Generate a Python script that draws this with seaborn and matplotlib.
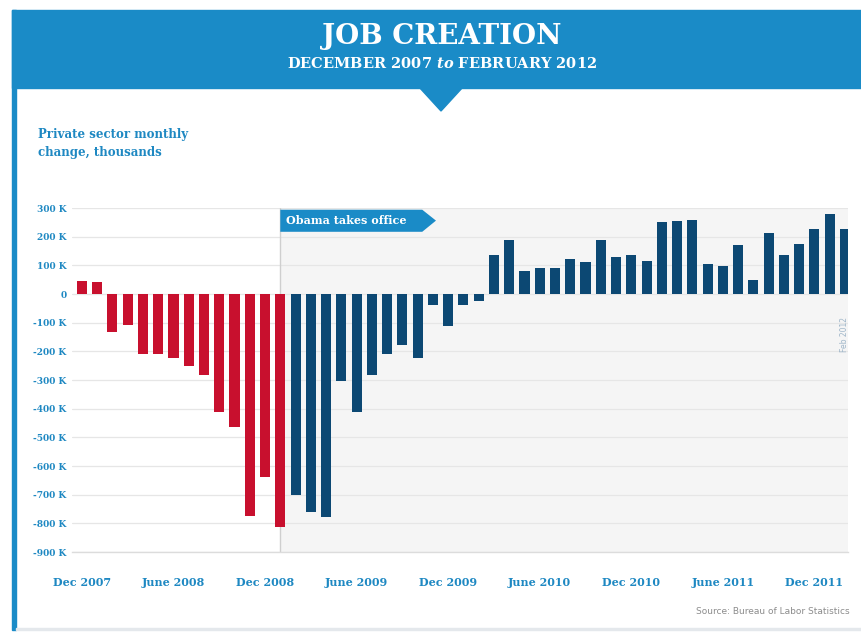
import pandas as pd
import matplotlib
matplotlib.use("Agg")
import matplotlib.pyplot as plt
import seaborn as sns
from matplotlib.patches import Rectangle, Polygon

# -------------------------------
# Data (private sector monthly change, thousands)
# -------------------------------
months = pd.date_range("2007-12-01", "2012-02-01", freq="MS")
change = [47, 41, -131, -107, -208, -208, -224, -250, -284, -413, -465, -774, -638,
          -812, -702, -762, -777, -303, -413, -284, -210, -177, -224, -40, -113,
          -37, -26, 137, 187, 81, 91, 91, 123, 112, 190, 129, 137,
          116, 250, 254, 257, 105, 99, 172, 50, 213, 136, 175, 228, 279, 228]
period = ["before"] * 14 + ["after"] * 37

tick_pos = [0, 6, 12, 18, 24, 30, 36, 42, 48]
tick_labels = ["Dec 2007", "June 2008", "Dec 2008", "June 2009", "Dec 2009",
               "June 2010", "Dec 2010", "June 2011", "Dec 2011"]
y_ticks = [300, 200, 100, 0, -100, -200, -300, -400, -500, -600, -700, -800, -900]
y_labels = ["0" if v == 0 else f"{v} K" for v in y_ticks]

df = pd.DataFrame({"month": months.strftime("%b %Y"), "change": change, "period": period})

# -------------------------------
# Style
# -------------------------------
sns.set_style("white")
plt.rcParams["font.family"] = ["DejaVu Serif"]
plt.rcParams["mathtext.fontset"] = "custom"
plt.rcParams["mathtext.it"] = "DejaVu Serif:italic:bold"

HEAD = "#1a8bc7"
RED = "#c8102e"
NAVY = "#0c4873"
TXT = "#1e88c2"

W, H = 862, 634


def px(x, y):
    return (x / W, 1 - y / H)


fig = plt.figure(figsize=(W / 100, H / 100), dpi=100)
fig.patch.set_facecolor("white")

# card frame and header band
fig.patches.append(Rectangle(px(12, 630), 4 / W, 620 / H, transform=fig.transFigure,
                             color=HEAD, zorder=0))
fig.patches.append(Rectangle(px(16, 630), (W - 16) / W, 2 / H, transform=fig.transFigure,
                             color="#e4e8ec", zorder=0))
fig.patches.append(Rectangle(px(12, 88), (W - 12) / W, 78 / H, transform=fig.transFigure,
                             color=HEAD, zorder=0))
fig.patches.append(Polygon([px(419, 87), px(463, 87), px(441, 111)], closed=True,
                           transform=fig.transFigure, color=HEAD, zorder=0))

fig.text(*px(442, 37), "JOB CREATION", ha="center", va="center", color="white",
         fontsize=20, fontweight="bold")
fig.text(*px(442, 63), r"DECEMBER 2007 $\mathit{to}$ FEBRUARY 2012", ha="center",
         va="center", color="white", fontsize=10.5, fontweight="bold")

fig.text(*px(38, 128), "Private sector monthly\nchange, thousands", ha="left", va="top",
         color=TXT, fontsize=8.5, fontweight="bold", linespacing=1.5)

fig.text(*px(850, 611), "Source: Bureau of Labor Statistics", ha="right", va="center",
         color="#8c8c8c", fontsize=6.5, family="DejaVu Sans")

# -------------------------------
# Bars
# -------------------------------
ax = fig.add_axes([72 / W, 1 - 552 / H, 776 / W, 344 / H])
ax.set_facecolor("white")

sns.barplot(data=df, x="month", y="change", hue="period",
            palette={"before": RED, "after": NAVY}, dodge=False, width=0.66,
            saturation=1, legend=False, linewidth=0, ax=ax)

ax.set_xlim(-0.65, 50.2)
ax.set_ylim(-900, 300)

# shaded Obama era and marker line
ax.axvspan(13.0, 50.2, color="#f5f5f5", zorder=0.1, lw=0)
ax.plot([13.0, 13.0], [-900, 300], color="#cfcfcf", lw=1, zorder=0.6)

ax.set_axisbelow(True)
ax.yaxis.grid(True, color="#e6e6e6", lw=0.9)
ax.xaxis.grid(False)

ax.set_yticks(y_ticks)
ax.set_yticklabels(y_labels)
ax.set_xticks(tick_pos)
ax.set_xticklabels(tick_labels)
ax.tick_params(axis="y", length=0, pad=4, labelsize=6.5, labelcolor=TXT)
ax.tick_params(axis="x", length=7, width=1, color="#d2d2d2", pad=11, labelsize=8,
               labelcolor=TXT)
for lab in ax.get_xticklabels() + ax.get_yticklabels():
    lab.set_fontweight("bold")

for side in ["top", "right", "left"]:
    ax.spines[side].set_visible(False)
ax.spines["bottom"].set_color("#dcdcdc")
ax.spines["bottom"].set_linewidth(1)
ax.set_xlabel("")
ax.set_ylabel("")

# "Obama takes office" banner
ax.add_patch(Polygon([(13.0, 294), (22.3, 294), (23.2, 256), (22.3, 217), (13.0, 217)],
                     closed=True, color=HEAD, zorder=3, lw=0))
ax.text(13.4, 256, "Obama takes office", ha="left", va="center", color="white",
        fontsize=8, fontweight="bold", zorder=4)

ax.text(50, -140, "Feb 2012", rotation=90, ha="center", va="center", fontsize=5.5,
        color="#9fb6c9", family="DejaVu Sans")

fig.savefig("out.png", dpi=100)
